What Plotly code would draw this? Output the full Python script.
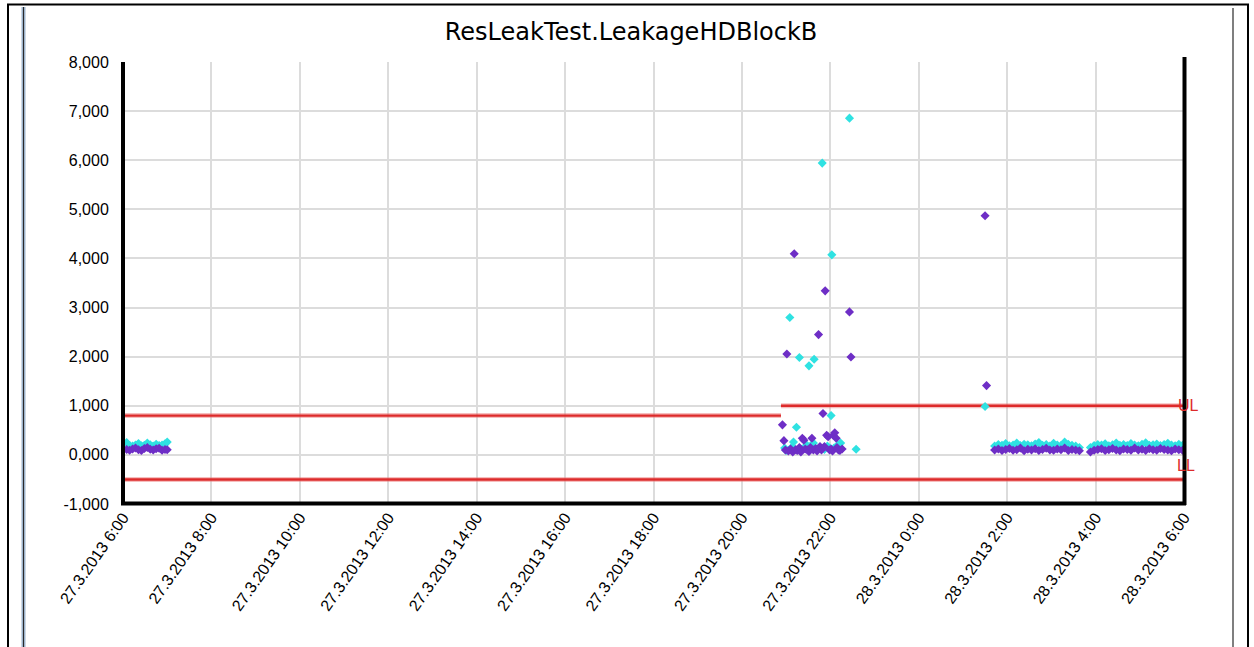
import plotly.graph_objects as go

DAY1 = "2013-03-27"
DAY2 = "2013-03-28"

# ---- data ----
# cluster 1 : 27.3 morning
c1_times = ["06:05", "06:09", "06:13", "06:17", "06:21", "06:25", "06:29", "06:33",
            "06:37", "06:41", "06:45", "06:49", "06:53", "06:57", "07:00"]
c1_purple = [110, 95, 120, 140, 105, 90, 130, 150, 115, 100, 125, 135, 95, 110, 105]
c1_cyan = [250, 190, 180, 200, 230, 185, 195, 240, 205, 180, 215, 190, 200, 225, 260]

# cluster 2 : 27.3 evening (scattered)
c2_purple_times = ["20:55", "20:57", "20:59", "21:01", "21:03", "21:06", "21:09", "21:11",
                   "21:13", "21:15", "21:18", "21:20", "21:22", "21:24", "21:26", "21:29",
                   "21:31", "21:33", "21:35", "21:37", "21:40", "21:42", "21:44", "21:46",
                   "21:48", "21:50", "21:52", "21:53", "21:55", "21:57", "21:59", "22:01",
                   "22:03", "22:04", "22:06", "22:08", "22:09", "22:11", "22:13", "22:16",
                   "22:26", "22:28"]
c2_purple = [612, 290, 100, 2054, 80, 120, 60, 4095,
             110, 90, 150, 60, 340, 300, 120, 100,
             70, 150, 340, 100, 130, 80, 2449, 170,
             100, 843, 170, 3340, 400, 370, 100, 120,
             80, 400, 450, 340, 150, 100, 90, 120,
             2912, 1993]
c2_cyan_times = ["20:58", "21:00", "21:05", "21:08", "21:10", "21:14", "21:18", "21:21",
                 "21:25", "21:28", "21:31", "21:33", "21:37", "21:38", "21:43", "21:49",
                 "21:52", "21:56", "22:00", "22:01", "22:02", "22:05", "22:10", "22:14",
                 "22:26", "22:35"]
c2_cyan = [140, 90, 2796, 160, 260, 564, 1982, 110,
           150, 200, 1813, 170, 240, 1948, 120, 5941,
           110, 180, 130, 800, 4073, 140, 200, 240,
           6857, 116]

# cluster 3 : 28.3 night
c3_purple_times = ["01:30", "01:32"]
c3_purple = [4868, 1411]
c3_cyan_times = ["01:30"]
c3_cyan = [984]
band_times = ["01:43", "01:48", "01:53", "01:58", "02:03", "02:08", "02:13", "02:18",
              "02:23", "02:28", "02:33", "02:38", "02:43", "02:48", "02:53", "02:58",
              "03:03", "03:08", "03:13", "03:18", "03:23", "03:28", "03:33", "03:38",
              "03:53", "03:58", "04:03", "04:08", "04:13", "04:18", "04:23", "04:28",
              "04:33", "04:38", "04:43", "04:48", "04:53", "04:58", "05:03", "05:08",
              "05:13", "05:18", "05:23", "05:28", "05:33", "05:38", "05:43", "05:48",
              "05:53", "05:58"]
band_purple = [100, 120, 90, 110, 130, 95, 105, 140, 85, 115, 100, 125, 90, 110, 135, 100,
               95, 120, 105, 140, 90, 110, 100, 85,
               60, 95, 110, 125, 90, 105, 130, 100, 85, 120, 110, 95, 140, 100, 115, 90,
               125, 105, 95, 130, 110, 100, 85, 120, 105, 95]
band_cyan = [180, 210, 195, 230, 185, 200, 240, 190, 215, 205, 185, 220, 250, 195, 210, 180,
             235, 200, 190, 260, 215, 195, 180, 150,
             150, 190, 210, 200, 225, 185, 205, 240, 195, 210, 190, 230, 200, 185, 215, 245,
             195, 205, 220, 190, 210, 235, 200, 185, 215, 195]

# limits
ul_times = [DAY1 + " 06:00", DAY1 + " 20:53", None, DAY1 + " 20:53", DAY2 + " 06:00"]
ul_values = [800, 800, None, 1000, 1000]
ll_times = [DAY1 + " 06:00", DAY2 + " 06:00"]
ll_values = [-500, -500]

# ticks
x_tickvals = [DAY1 + " 06:00", DAY1 + " 08:00", DAY1 + " 10:00", DAY1 + " 12:00",
              DAY1 + " 14:00", DAY1 + " 16:00", DAY1 + " 18:00", DAY1 + " 20:00",
              DAY1 + " 22:00", DAY2 + " 00:00", DAY2 + " 02:00", DAY2 + " 04:00",
              DAY2 + " 06:00"]
x_ticktext = ["27.3.2013 6:00", "27.3.2013 8:00", "27.3.2013 10:00", "27.3.2013 12:00",
              "27.3.2013 14:00", "27.3.2013 16:00", "27.3.2013 18:00", "27.3.2013 20:00",
              "27.3.2013 22:00", "28.3.2013 0:00", "28.3.2013 2:00", "28.3.2013 4:00",
              "28.3.2013 6:00"]
y_tickvals = [-1000, 0, 1000, 2000, 3000, 4000, 5000, 6000, 7000, 8000]
y_ticktext = ["-1,000", "0,000", "1,000", "2,000", "3,000", "4,000", "5,000", "6,000",
              "7,000", "8,000"]

# ---- build series ----
purple_x = ([f"{DAY1} {t}" for t in c1_times] + [f"{DAY1} {t}" for t in c2_purple_times]
            + [f"{DAY2} {t}" for t in c3_purple_times] + [f"{DAY2} {t}" for t in band_times])
purple_y = c1_purple + c2_purple + c3_purple + band_purple
cyan_x = ([f"{DAY1} {t}" for t in c1_times] + [f"{DAY1} {t}" for t in c2_cyan_times]
          + [f"{DAY2} {t}" for t in c3_cyan_times] + [f"{DAY2} {t}" for t in band_times])
cyan_y = c1_cyan + c2_cyan + c3_cyan + band_cyan

RED = "#dd2a2a"
PURPLE = "#6e2ec6"
CYAN = "#2fe2e2"

fig = go.Figure()
for xs, ys in ((ul_times, ul_values), (ll_times, ll_values)):
    fig.add_trace(go.Scatter(x=xs, y=ys, mode="lines", line=dict(color="rgba(235,110,110,0.45)", width=5),
                             hoverinfo="skip", showlegend=False))
    fig.add_trace(go.Scatter(x=xs, y=ys, mode="lines", line=dict(color=RED, width=2.4),
                             showlegend=False))

fig.add_trace(go.Scatter(x=cyan_x, y=cyan_y, mode="markers",
                         marker=dict(symbol="diamond", size=7, color=CYAN, line=dict(width=0)),
                         showlegend=False))
fig.add_trace(go.Scatter(x=purple_x, y=purple_y, mode="markers",
                         marker=dict(symbol="diamond", size=7, color=PURPLE, line=dict(width=0)),
                         showlegend=False))

L, R, T, B = 123, 1184, 62, 504
W, H = 1254, 647
pw, ph = R - L, B - T


def px(x):
    return (x - L) / pw


def py(y):
    return (B - y) / ph


shapes = []
# outer frame
shapes.append(dict(type="rect", xref="paper", yref="paper", x0=px(8), x1=px(1248),
                   y0=py(700), y1=py(4.5), line=dict(color="black", width=2)))
# left panel line (light blue with dark centre)
shapes.append(dict(type="line", xref="paper", yref="paper", x0=px(23.5), x1=px(23.5),
                   y0=py(7), y1=py(700), line=dict(color="#9db3cb", width=4)))
shapes.append(dict(type="line", xref="paper", yref="paper", x0=px(23.5), x1=px(23.5),
                   y0=py(7), y1=py(700), line=dict(color="#2a2a2a", width=1)))
# right panel line
shapes.append(dict(type="line", xref="paper", yref="paper", x0=px(1233), x1=px(1233),
                   y0=py(8), y1=py(700), line=dict(color="#555555", width=1.5)))
# axis lines
shapes.append(dict(type="line", xref="paper", yref="paper", x0=px(123), x1=px(123),
                   y0=py(505), y1=py(62), line=dict(color="black", width=4)))
shapes.append(dict(type="line", xref="paper", yref="paper", x0=px(121), x1=px(1186),
                   y0=py(503.5), y1=py(503.5), line=dict(color="black", width=4)))
shapes.append(dict(type="line", xref="paper", yref="paper", x0=px(1184.5), x1=px(1184.5),
                   y0=py(505), y1=py(57), line=dict(color="black", width=4)))

fig.update_layout(
    width=W, height=H,
    margin=dict(l=L, r=W - R, t=T, b=H - B, pad=0),
    paper_bgcolor="white", plot_bgcolor="white",
    title=dict(text="ResLeakTest.LeakageHDBlockB", xref="container", yref="container",
               x=631 / W, y=1 - 32 / H, xanchor="center", yanchor="middle",
               font=dict(family="DejaVu Sans", size=24, color="black")),
    font=dict(family="Liberation Sans", size=16, color="black"),
    shapes=shapes,
    annotations=[
        dict(text="UL", xref="paper", yref="paper", x=px(1188), y=py(405), showarrow=False,
             xanchor="center", yanchor="middle", font=dict(family="Liberation Sans", size=16, color=RED)),
        dict(text="LL", xref="paper", yref="paper", x=px(1186), y=py(465.5), showarrow=False,
             xanchor="center", yanchor="middle", font=dict(family="Liberation Sans", size=16, color=RED)),
    ],
    showlegend=False,
)
fig.update_xaxes(type="date", range=[DAY1 + " 06:00", DAY2 + " 06:00"],
                 tickvals=x_tickvals, ticktext=x_ticktext, tickangle=-55,
                 showgrid=True, gridcolor="#dcdcdc", gridwidth=2, zeroline=False,
                 showline=False, ticks="", ticklen=0,
                 tickfont=dict(family="Liberation Sans", size=16, color="black"))
fig.update_yaxes(range=[-1000, 8000], tickvals=y_tickvals, ticktext=y_ticktext,
                 showgrid=True, gridcolor="#dcdcdc", gridwidth=2, zeroline=False,
                 showline=False, ticks="outside", ticklen=10, tickcolor="rgba(0,0,0,0)",
                 tickfont=dict(family="Liberation Sans", size=16, color="black"))

fig.write_html("out.html", config={"displayModeBar": False},
               post_script="document.body.style.margin='0';document.documentElement.style.overflow='hidden';")
